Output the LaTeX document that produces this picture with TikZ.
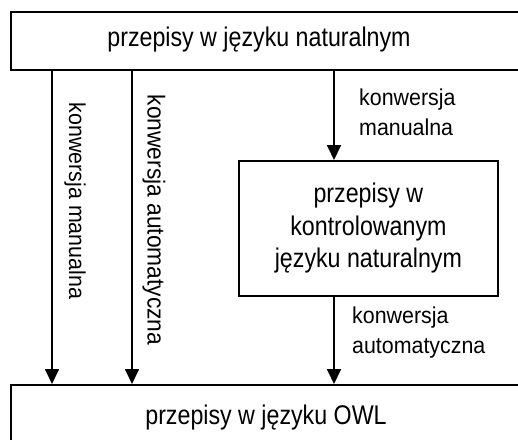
\documentclass[tikz,border=0pt]{standalone}
\usepackage{fontspec}
\setmainfont{Liberation Sans}
\newfontfamily\boxfont[FakeStretch=0.86]{Liberation Sans}
\newfontfamily\labfont[FakeStretch=0.93]{Liberation Sans}
\usepackage{tikz}
\usetikzlibrary{arrows.meta}

\begin{document}
\begin{tikzpicture}[x=1pt,y=-1pt]%
  \tikzstyle{boxn}=[rectangle,draw,line width=1.8pt,inner sep=0,anchor=north west]
  \tikzstyle{txtn}=[inner sep=0,font=\boxfont\fontsize{27}{32.5}\selectfont,align=center]
  \tikzstyle{labn}=[inner sep=0,font=\labfont\fontsize{23}{30}\selectfont,align=left]
  \tikzstyle{arr}=[line width=1.8pt,-{Triangle[width=14pt,length=15pt]}]
  \clip (0,0) rectangle (518,439);
  \node(nat)[boxn,minimum width=540pt,minimum height=58pt] at (10,11) {};
  \node(nattxt)[txtn] at (259,40) {przepisy w języku naturalnym};
  \node(owl)[boxn,minimum width=540pt,minimum height=80pt] at (10,384) {};
  \node(owltxt)[txtn] at (266,418) {przepisy w języku OWL};
  \node(ctl)[boxn,txtn,minimum width=259pt,minimum height=135pt,draw,line width=1.8pt,anchor=north west] at (238,160)
    {przepisy w\\kontrolowanym\\języku naturalnym};
  % strzalki
  \draw[arr] (nat.south -| 52,0) -- (owl.north -| 52,0);
  \draw[arr] (nat.south -| 132,0) -- (owl.north -| 132,0);
  \draw[arr] (nat.south -| 334,0) -- (ctl.north -| 334,0);
  \draw[arr] (ctl.south -| 334,0) -- (owl.north -| 334,0);
  % opisy
  \node(l1)[labn,rotate=-90] at (75,201) {konwersja manualna};
  \node(l2)[labn,rotate=-90,font=\labfont\fontsize{24.5}{30}\selectfont] at (154,220) {konwersja automatyczna};
  \node(l3)[labn,anchor=west] at (359,112) {konwersja\\manualna};
  \node(l4)[labn,anchor=west] at (352,333) {konwersja\\automatyczna};
\end{tikzpicture}
\end{document}
